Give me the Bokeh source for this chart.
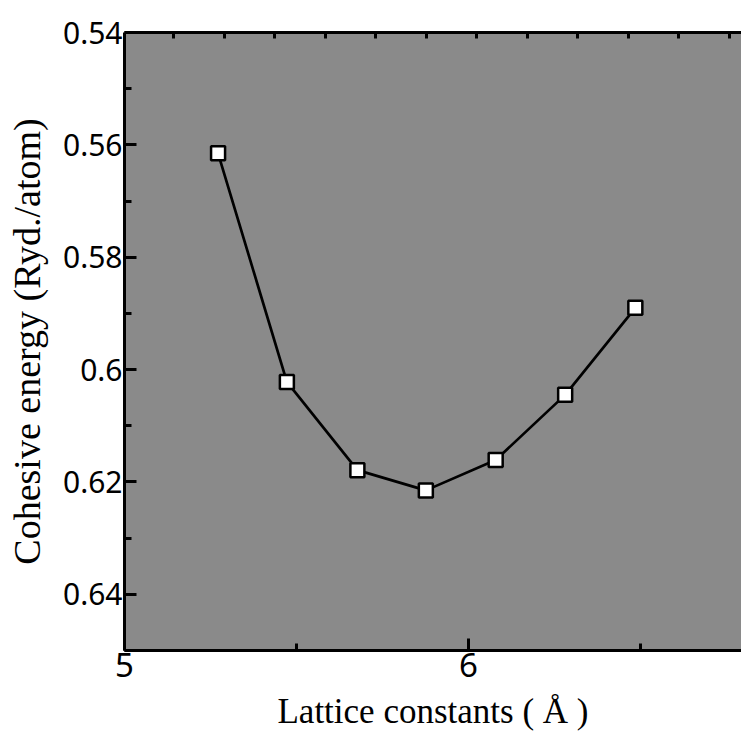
from bokeh.plotting import figure
from bokeh.models import Range1d, FixedTicker, LinearAxis, CustomJSTickFormatter
from bokeh.embed import file_html
from bokeh.resources import INLINE

# Data
lattice = [5.272, 5.472, 5.677, 5.876, 6.079, 6.281, 6.485]
energy = [0.5615, 0.6022, 0.6179, 0.6215, 0.6161, 0.6045, 0.5890]

x_major = [5, 6, 7]
x_minor = [5.5, 6.5]
y_major = [0.54, 0.56, 0.58, 0.60, 0.62, 0.64]
y_minor = [0.55, 0.57, 0.59, 0.61, 0.63, 0.65]
top_ticks = [5.143, 5.290, 5.437, 5.583, 5.730, 5.877, 6.024, 6.171, 6.318, 6.464, 6.611, 6.758]

x_end = 5 + (741 - 124) / 344.0

p = figure(width=741, height=735, output_backend="svg", toolbar_location=None,
           x_range=Range1d(5, x_end), y_range=Range1d(0.65, 0.54),
           min_border_left=124, min_border_right=0, min_border_top=32,
           min_border_bottom=85)
p.grid.visible = False
p.outline_line_color = None
p.background_fill_color = "#8a8a8a"
p.border_fill_color = "white"

fmt = CustomJSTickFormatter(code="return String(Math.round(tick*100)/100);")

xa = p.xaxis[0]
xa.ticker = FixedTicker(ticks=x_major, minor_ticks=x_minor)
xa.formatter = fmt
xa.axis_line_width = 3
xa.major_tick_in = 12
xa.major_tick_out = 0
xa.minor_tick_in = 7
xa.minor_tick_out = 0
xa.major_tick_line_width = 3
xa.minor_tick_line_width = 3
xa.major_label_text_font = "Noto Sans"
xa.major_label_text_font_size = "33px"
xa.major_label_text_color = "black"
xa.major_label_standoff = 2
xa.axis_label = "Lattice constants ( Å )"
xa.axis_label_text_font = "Liberation Serif"
xa.axis_label_text_font_style = "normal"
xa.axis_label_text_font_size = "35px"
xa.axis_label_text_color = "black"
xa.axis_label_standoff = 12

ya = p.yaxis[0]
ya.ticker = FixedTicker(ticks=y_major, minor_ticks=y_minor)
ya.formatter = fmt
ya.axis_line_width = 3
ya.major_tick_in = 12
ya.major_tick_out = 0
ya.minor_tick_in = 7
ya.minor_tick_out = 0
ya.major_tick_line_width = 3
ya.minor_tick_line_width = 3
ya.major_label_text_font = "Noto Sans"
ya.major_label_text_font_size = "30px"
ya.major_label_text_color = "black"
ya.major_label_standoff = 2
ya.axis_label = "Cohesive energy (Ryd./atom)"
ya.axis_label_text_font = "Liberation Serif"
ya.axis_label_text_font_style = "normal"
ya.axis_label_text_font_size = "38px"
ya.axis_label_text_color = "black"
ya.axis_label_standoff = 12

top = LinearAxis(ticker=FixedTicker(ticks=top_ticks), axis_line_width=3,
                 major_tick_in=6, major_tick_out=0, major_tick_line_width=3,
                 minor_tick_line_color=None,
                 formatter=CustomJSTickFormatter(code="return '';"),
                 major_label_standoff=0)
p.add_layout(top, "above")

p.line(lattice, energy, line_color="black", line_width=2.7)
p.scatter(lattice, energy, marker="square", size=14, fill_color="white",
          line_color="black", line_width=2.5)

open("out.html", "w").write(file_html(p, INLINE))
